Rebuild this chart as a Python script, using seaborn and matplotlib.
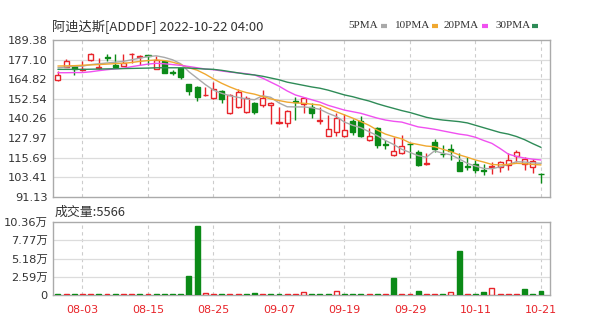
import numpy as np
import pandas as pd
import matplotlib
matplotlib.use("Agg")
import matplotlib.pyplot as plt
import seaborn as sns
from matplotlib.lines import Line2D

# ---------------- data ----------------
dates = ["07-29", "08-01", "08-02", "08-03", "08-04", "08-05", "08-08", "08-09", "08-10", "08-11",
         "08-12", "08-15", "08-16", "08-17", "08-18", "08-19", "08-22", "08-23", "08-24", "08-25",
         "08-26", "08-29", "08-30", "08-31", "09-01", "09-02", "09-06", "09-07", "09-08", "09-09",
         "09-12", "09-13", "09-14", "09-15", "09-16", "09-19", "09-20", "09-21", "09-22", "09-23",
         "09-26", "09-27", "09-28", "09-29", "09-30", "10-03", "10-04", "10-05", "10-06", "10-07",
         "10-10", "10-11", "10-12", "10-13", "10-14", "10-17", "10-18", "10-19", "10-20", "10-21"]

opens = [164.3, 172.7, 173.1, 170.3, 176.9, 171.9, 178.7, 173.7, 173.1, 180.4,
         179.0, 180.0, 171.2, 176.0, 169.3, 171.7, 161.8, 159.8, 154.8, 152.9,
         157.6, 143.5, 147.6, 144.5, 150.1, 148.7, 148.7, 137.3, 137.2, 151.0,
         149.3, 147.6, 138.6, 129.5, 132.0, 129.0, 139.0, 139.0, 126.5, 134.0,
         124.5, 117.5, 118.5, 124.6, 119.2, 111.6, 125.5, 118.3, 121.0, 112.8,
         110.5, 112.0, 108.3, 109.9, 110.0, 111.0, 116.5, 111.5, 110.0, 105.8]
closes = [167.5, 176.4, 171.0, 171.0, 180.6, 172.7, 178.3, 172.7, 174.8, 180.9,
          179.6, 179.6, 176.9, 169.0, 168.7, 166.4, 157.6, 154.0, 155.2, 158.5,
          152.3, 155.0, 157.0, 152.9, 144.5, 152.9, 149.8, 137.9, 145.1, 150.5,
          152.9, 143.5, 139.2, 133.5, 140.4, 133.0, 131.5, 129.0, 129.5, 123.7,
          123.8, 120.0, 123.0, 124.1, 111.2, 112.1, 121.3, 117.8, 120.0, 107.6,
          109.8, 107.8, 107.7, 110.3, 113.2, 114.5, 119.0, 115.0, 113.8, 105.4]
highs = [170.0, 177.5, 173.5, 176.0, 181.0, 178.0, 180.6, 180.5, 180.6, 181.2,
         179.8, 180.2, 179.4, 177.0, 170.5, 172.0, 162.0, 160.5, 159.8, 163.3,
         158.0, 155.5, 158.7, 154.5, 150.5, 158.0, 150.5, 147.3, 145.5, 154.0,
         153.3, 149.8, 147.6, 142.5, 143.5, 143.0, 140.0, 142.0, 134.0, 135.0,
         127.0, 128.8, 130.0, 124.8, 120.5, 118.8, 127.5, 123.7, 124.5, 118.5,
         116.0, 114.5, 112.0, 113.0, 113.5, 118.5, 120.5, 116.0, 115.0, 106.0]
lows = [164.0, 172.5, 167.5, 170.0, 176.5, 171.5, 176.4, 172.5, 172.8, 175.0,
        173.7, 174.0, 171.0, 168.5, 167.5, 164.8, 155.0, 151.5, 154.5, 152.5,
        149.8, 143.0, 147.0, 144.0, 143.0, 147.5, 136.8, 137.0, 135.0, 139.5,
        143.5, 140.4, 137.0, 129.0, 129.3, 128.5, 130.0, 128.5, 126.0, 121.6,
        121.0, 117.0, 118.0, 115.4, 110.8, 111.3, 119.5, 116.3, 114.3, 107.3,
        108.0, 106.0, 105.0, 105.5, 107.0, 108.0, 113.0, 108.0, 106.0, 99.7]
prev_close = 168.0

ma5 = [172.0, 172.5, 173.0, 173.0, 174.0, 174.5, 175.0, 175.5, 176.0, 177.0,
       178.0, 179.0, 179.5, 178.5, 177.0, 174.5, 169.5, 165.5, 161.5, 158.0,
       156.0, 154.5, 153.5, 152.5, 152.0, 154.5, 153.5, 150.0, 147.6, 147.5,
       147.5, 147.0, 146.0, 143.5, 141.5, 138.0, 136.0, 134.5, 132.0, 129.5,
       126.5, 124.0, 121.0, 119.0, 117.0, 116.0, 120.0, 118.5, 117.5, 115.0,
       112.2, 110.5, 109.0, 108.8, 110.0, 111.5, 113.2, 113.0, 112.5, 112.2]
ma10 = [173.1, 173.2, 173.3, 173.6, 173.8, 174.0, 174.3, 174.6, 174.8, 175.3,
        176.0, 176.5, 176.9, 176.5, 175.5, 174.0, 172.0, 170.5, 168.0, 165.0,
        162.3, 160.0, 158.0, 156.5, 155.5, 154.0, 152.5, 151.5, 150.5, 150.0,
        149.8, 149.2, 148.7, 146.5, 144.5, 142.5, 140.5, 138.3, 136.0, 133.0,
        130.5, 128.9, 127.5, 125.0, 124.0, 123.0, 122.6, 121.0, 119.5, 117.5,
        116.0, 114.3, 113.0, 111.5, 111.2, 111.5, 112.2, 112.0, 111.5, 111.2]
ma20 = [168.9, 168.9, 169.0, 169.0, 169.5, 170.2, 170.8, 171.3, 171.7, 172.7,
        173.5, 174.3, 174.8, 174.5, 174.0, 173.5, 172.8, 172.0, 171.2, 170.8,
        170.0, 169.3, 168.8, 168.3, 167.5, 165.5, 163.0, 160.5, 157.5, 155.0,
        153.5, 152.0, 150.5, 148.5, 147.0, 145.5, 144.5, 143.5, 142.0, 140.5,
        139.3, 138.5, 138.0, 136.5, 135.0, 134.3, 133.5, 132.5, 131.5, 130.5,
        129.8, 128.5, 126.5, 124.7, 121.5, 118.0, 116.5, 115.5, 114.8, 114.3]
ma30 = [171.0, 171.0, 171.0, 171.0, 171.1, 171.2, 171.3, 171.4, 171.5, 171.6,
        171.7, 171.8, 172.0, 172.0, 172.0, 172.0, 171.8, 171.5, 171.2, 171.0,
        170.4, 169.6, 168.8, 168.0, 167.5, 166.7, 165.6, 164.5, 163.0, 162.0,
        161.0, 160.0, 159.2, 158.0, 156.5, 155.0, 153.9, 152.5, 151.2, 149.5,
        148.0, 146.6, 145.2, 144.0, 142.5, 141.0, 140.0, 139.3, 138.8, 138.3,
        137.5, 136.0, 134.5, 133.0, 131.5, 130.5, 129.0, 127.0, 124.5, 122.2]

volumes = [1600, 1400, 1500, 1300, 1500, 1200, 1400, 1300, 1500, 1400,
           1300, 1500, 1400, 1600, 1500, 1700, 26500, 97500, 3300, 1800,
           1500, 1600, 1500, 1400, 3500, 1500, 1400, 1600, 1500, 1300,
           4800, 1500, 1400, 1300, 6000, 1500, 1400, 1300, 1500, 1600,
           1400, 24500, 1600, 1500, 6000, 1500, 1400, 1600, 4000, 62500,
           1600, 1500, 4000, 10500, 1500, 1400, 1600, 8500, 1800, 5566]

price_ticks = [91.13, 103.41, 115.69, 127.97, 140.26, 152.54, 164.82, 177.10, 189.38]
price_labels = ["91.13", "103.41", "115.69", "127.97", "140.26", "152.54", "164.82", "177.10", "189.38"]
vol_ticks = [0, 25900, 51800, 77700, 103600]
vol_labels = ["0", "2.59万", "5.18万", "7.77万", "10.36万"]
date_ticks = ["08-03", "08-15", "08-25", "09-07", "09-19", "09-29", "10-11", "10-21"]

ma_names = ["5PMA", "10PMA", "20PMA", "30PMA"]
ma_colors = ["#a9a9a9", "#f0a830", "#f050f0", "#2e8b57"]

# ---------------- styling ----------------
sns.set_style("white")
plt.rcParams["font.family"] = ["DejaVu Sans", "Noto Sans CJK SC"]

RED = "#e8242a"
GREEN = "#0b8a17"
TXT = "#333333"
GRID = "#dcdcdc"
SPINE = "#aaaaaa"

fig = plt.figure(figsize=(6, 3.25), dpi=100)
L, R = 53, 550
ax = fig.add_axes([L / 600, 1 - 197 / 325, (R - L) / 600, 157 / 325])
axv = fig.add_axes([L / 600, 1 - 295 / 325, (R - L) / 600, 73 / 325])

n = len(dates)
x = np.arange(n)
o = np.array(opens); c = np.array(closes); h = np.array(highs); lo = np.array(lows)
up = c >= o
xticks = [dates.index(d) for d in date_ticks]

for a in (ax, axv):
    a.set_xlim(-0.6, n + 0.1)
    for s in a.spines.values():
        s.set_color(SPINE)
        s.set_linewidth(1.0)
    for xt in xticks:
        a.axvline(xt, color="#cccccc", lw=0.8, ls=(0, (3, 3)), zorder=0)

# price grid
ax.set_ylim(91.13, 189.38)
ax.set_yticks(price_ticks)
ax.set_yticklabels(price_labels)
for yt in price_ticks[1:-1]:
    ax.axhline(yt, color=GRID, lw=0.9, zorder=0)

# candles
w = 0.62
for i in range(n):
    col = RED if up[i] else GREEN
    ax.vlines(x[i], lo[i], h[i], color=col, lw=1.0, zorder=2)
    body = max(abs(c[i] - o[i]), 0.35)
    bottom = min(o[i], c[i])
    if up[i]:
        ax.bar(x[i], body, bottom=bottom, width=w, facecolor="white", edgecolor=col, lw=1.0, zorder=3)
    else:
        ax.bar(x[i], body, bottom=bottom, width=w, facecolor=col, edgecolor=col, lw=1.0, zorder=3)

# moving averages via seaborn
ma_df = pd.DataFrame({
    "idx": np.tile(x, 4),
    "value": np.concatenate([ma5, ma10, ma20, ma30]),
    "line": np.repeat(ma_names, n),
})
sns.lineplot(data=ma_df, x="idx", y="value", hue="line", palette=dict(zip(ma_names, ma_colors)),
             lw=1.0, legend=False, ax=ax, zorder=4)
ax.set_xlabel(""); ax.set_ylabel("")
ax.set_xticks(xticks)
ax.set_xticklabels([])
ax.tick_params(axis="x", length=0)
ax.tick_params(axis="y", length=3, color=SPINE, labelsize=8.2, labelcolor=TXT, pad=1)

# volume
vol = np.array(volumes)
prev = np.concatenate([[prev_close], c[:-1]])
vup = c >= prev
axv.set_ylim(0, 103600)
for yt in vol_ticks[1:-1]:
    axv.axhline(yt, color=GRID, lw=0.9, zorder=0)
for i in range(n):
    if vup[i]:
        axv.bar(x[i], vol[i], width=0.6, facecolor="white", edgecolor=RED, lw=1.0, zorder=3)
    else:
        axv.bar(x[i], vol[i], width=0.6, facecolor=GREEN, edgecolor=GREEN, lw=1.0, zorder=3)
axv.set_yticks(vol_ticks)
axv.set_yticklabels(vol_labels)
axv.set_xticks(xticks)
axv.set_xticklabels(date_ticks)
axv.tick_params(axis="x", length=0, labelsize=8, labelcolor=RED, pad=7)
axv.tick_params(axis="y", length=3, color=SPINE, labelsize=8.2, labelcolor=TXT, pad=1)

# header texts
cjk = ["Noto Sans CJK SC", "DejaVu Sans"]
fig.text(52 / 600, 1 - 27 / 325, "阿迪达斯[ADDDF] 2022-10-22 04:00", family=cjk,
         fontsize=9.5, color=TXT, va="center", ha="left")
fig.text(55 / 600, 1 - 212 / 325, "成交量:5566", family=cjk,
         fontsize=9.3, color=TXT, va="center", ha="left")

leg_x = [348, 395, 444, 495]
sw_x = [381, 432, 482, 532]
for name, col, tx, sx in zip(ma_names, ma_colors, leg_x, sw_x):
    fig.text(tx / 600, 1 - 26 / 325, name, fontsize=8, color=TXT, va="center", ha="left",
             family=["Liberation Serif"])
    fig.add_artist(Line2D([sx / 600, (sx + 6) / 600], [1 - 26 / 325, 1 - 26 / 325],
                          color=col, lw=3, solid_capstyle="butt"))

fig.savefig("out.png", dpi=100)
